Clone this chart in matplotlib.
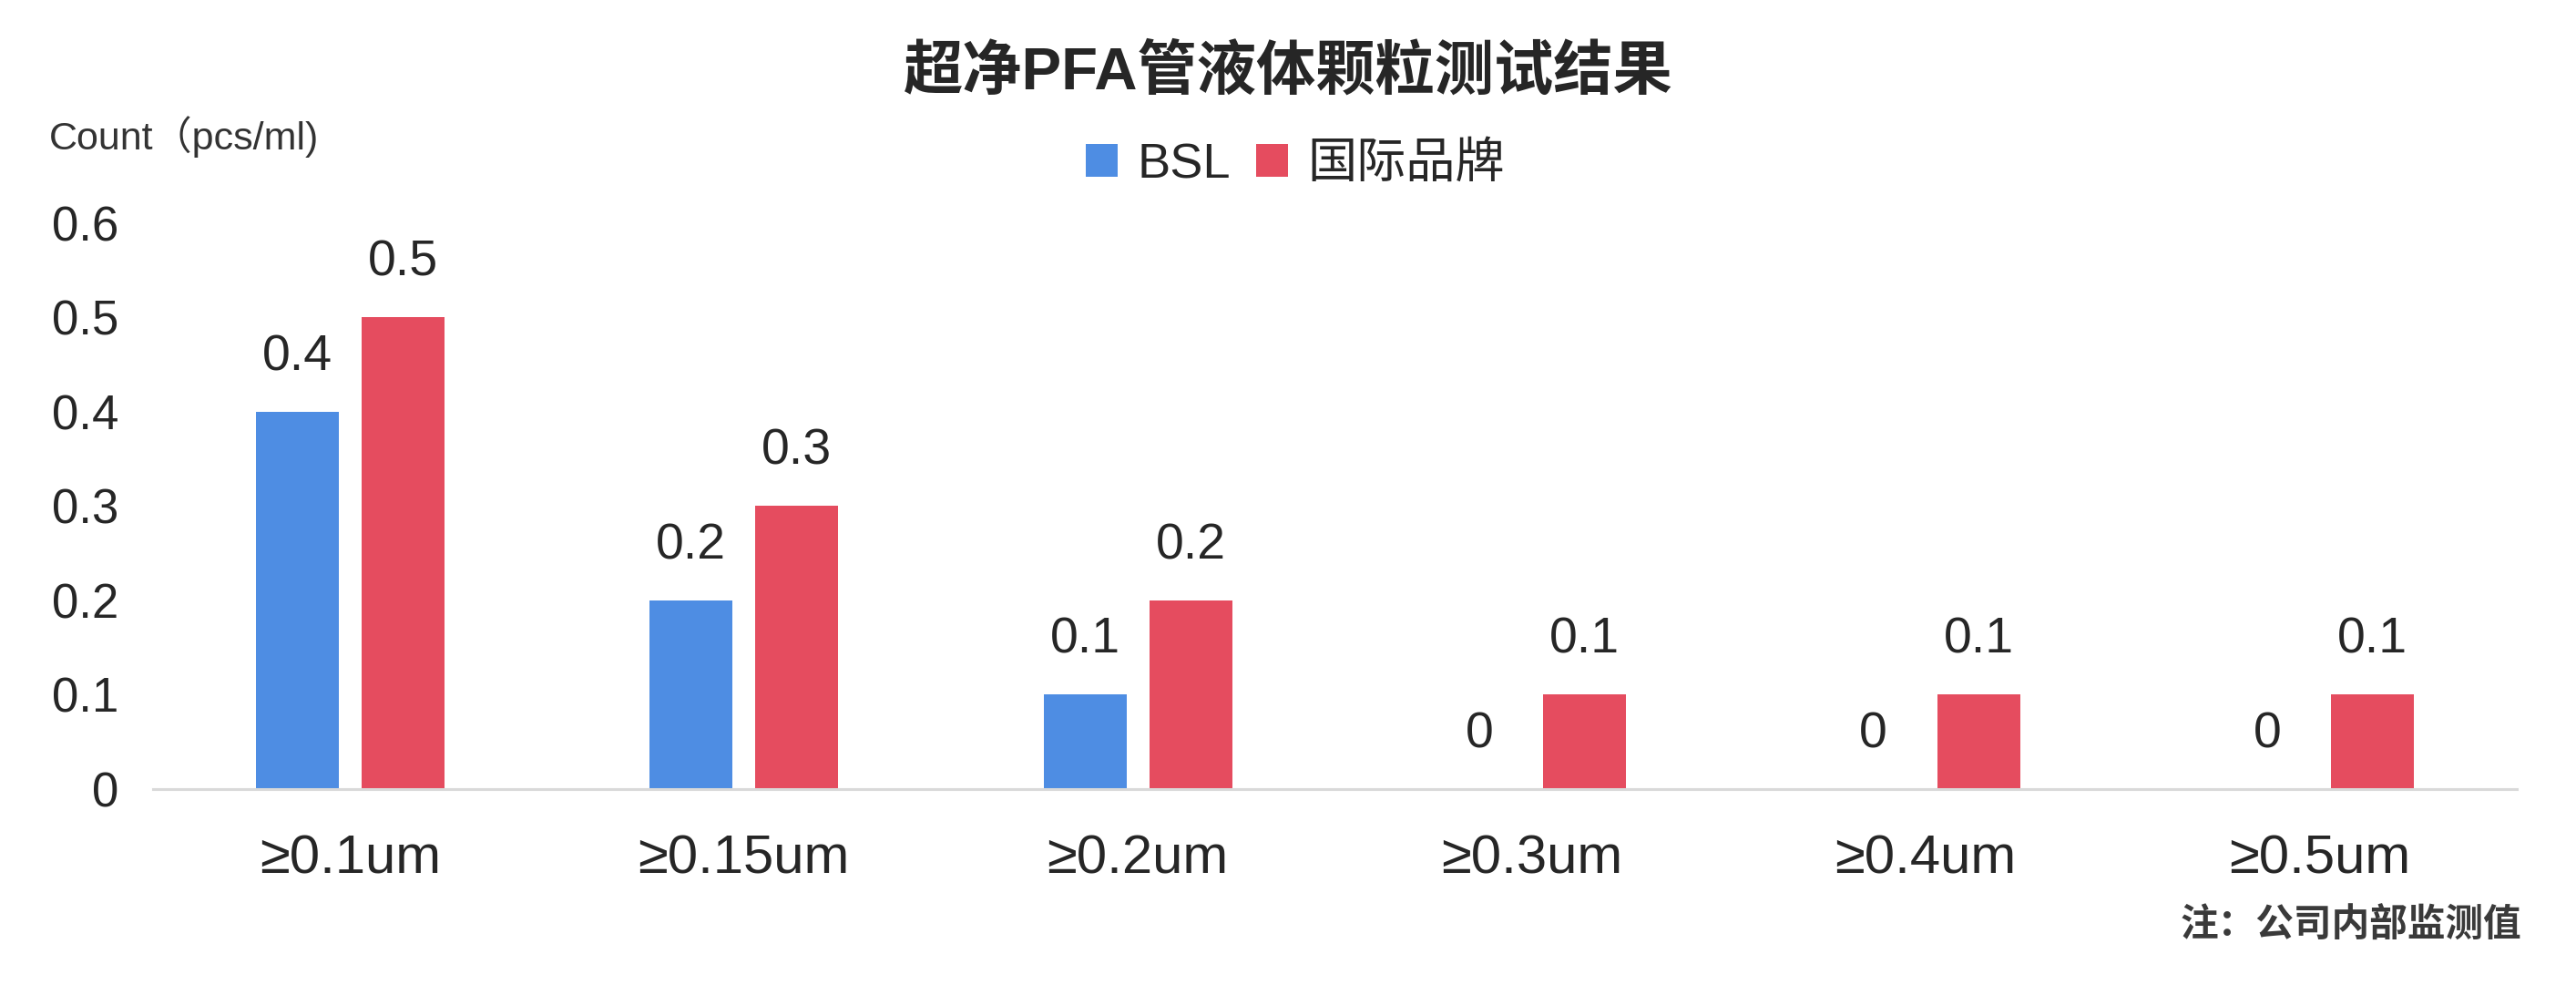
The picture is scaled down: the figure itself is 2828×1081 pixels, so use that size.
import matplotlib
matplotlib.use("Agg")
import matplotlib.pyplot as plt
import numpy as np

plt.rcParams['font.family'] = ['Liberation Sans', 'Noto Sans CJK SC', 'DejaVu Sans']

categories = ["≥0.1um", "≥0.15um", "≥0.2um", "≥0.3um", "≥0.4um", "≥0.5um"]
bsl = [0.4, 0.2, 0.1, 0, 0, 0]
intl = [0.5, 0.3, 0.2, 0.1, 0.1, 0.1]
series_names = ["BSL", "国际品牌"]
y_ticks = [0, 0.1, 0.2, 0.3, 0.4, 0.5, 0.6]

blue = "#4E8DE3"
red = "#E54C5F"
text_col = "#262626"

fig = plt.figure(figsize=(28.28, 10.81), dpi=100)
ax = fig.add_axes([0.0594, 0.1989, 0.9176, 0.5745])

x = np.arange(len(categories))
w = 0.21
off = 0.134
b1 = ax.bar(x - off, bsl, w, color=blue, label=series_names[0])
b2 = ax.bar(x + off, intl, w, color=red, label=series_names[1])

for bars, vals in ((b1, bsl), (b2, intl)):
    for rect, v in zip(bars, vals):
        ax.annotate(f"{v:g}", (rect.get_x() + rect.get_width() / 2, v),
                    xytext=(0, 43), textcoords="offset points",
                    ha="center", va="center", fontsize=40, color=text_col)

ax.set_xlim(-0.5, len(categories) - 0.5)
ax.set_ylim(0, 0.6)
ax.set_yticks(y_ticks)
ax.set_yticklabels([f"{t:g}" for t in y_ticks])
ax.set_xticks(x)
ax.set_xticklabels(categories)
ax.tick_params(axis="y", length=0, pad=27, labelsize=38, labelcolor=text_col)
ax.tick_params(axis="x", length=0, pad=36, labelsize=43, labelcolor=text_col)

for s in ("top", "right", "left"):
    ax.spines[s].set_visible(False)
ax.spines["bottom"].set_color("#d9d9d9")
ax.spines["bottom"].set_linewidth(2.2)

fig.text(0.5, 0.927, "超净PFA管液体颗粒测试结果", ha="center", va="center",
         fontsize=47, fontweight="bold", color=text_col)
fig.text(54 / 2828, 1 - 150 / 1081, "Count（pcs/ml)", ha="left", va="center",
         fontsize=31, color="#333333")
fig.text(2768 / 2828, 1 - 1017 / 1081, "注：公司内部监测值", ha="right", va="center",
         fontsize=30, fontweight="semibold", color="#3a3a3a")

fig.legend(loc="center", bbox_to_anchor=(1422 / 2828, 1 - 181 / 1081), ncol=2,
           frameon=False, fontsize=39, handlelength=0.65, handleheight=0.65,
           handletextpad=0.4, columnspacing=0.5, labelcolor=text_col)

fig.savefig("out.png", dpi=100, facecolor="white")
